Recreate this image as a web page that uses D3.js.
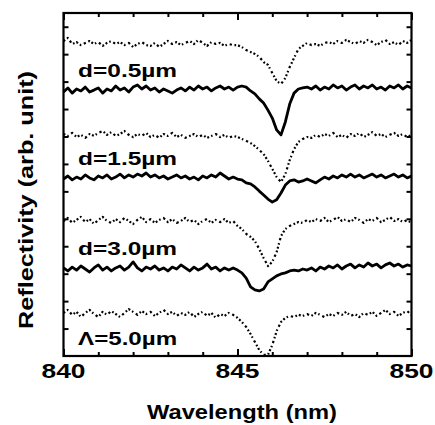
<!DOCTYPE html>
<html>
<head>
<meta charset="utf-8">
<script src="https://cdn.jsdelivr.net/npm/d3@7"></script>
<style>
  body { margin: 0; background: #fff; }
  text { font-family: "Liberation Sans", Arial, sans-serif; font-weight: bold; fill: #000; }
</style>
</head>
<body>
<div id="chart"></div>
<script>
const width = 435,
      height = 425;

const margin = {top: 13, right: 23.5, bottom: 69, left: 63.5};

// wavelength grid (nm)
const wavelength = [
  840, 840.125, 840.25, 840.375, 840.5, 840.625, 840.75, 840.875,
  841, 841.125, 841.25, 841.375, 841.5, 841.625, 841.75, 841.875,
  842, 842.125, 842.25, 842.375, 842.5, 842.625, 842.75, 842.875,
  843, 843.125, 843.25, 843.375, 843.5, 843.625, 843.75, 843.875,
  844, 844.125, 844.25, 844.375, 844.5, 844.625, 844.75, 844.875,
  845, 845.125, 845.25, 845.375, 845.5, 845.625, 845.75, 845.875,
  846, 846.125, 846.25, 846.375, 846.5, 846.625, 846.75, 846.875,
  847, 847.125, 847.25, 847.375, 847.5, 847.625, 847.75, 847.875,
  848, 848.125, 848.25, 848.375, 848.5, 848.625, 848.75, 848.875,
  849, 849.125, 849.25, 849.375, 849.5, 849.625, 849.75, 849.875,
  850
];

// reflectivity traces, offset (arb. unit)
const d05Dotted = [
  11.48, 11.59, 11.37, 11.44, 11.33, 11.41, 11.48, 11.37, 11.44, 11.30,
  11.41, 11.48, 11.37, 11.44, 11.33, 11.41, 11.26, 11.37, 11.44, 11.33,
  11.30, 11.41, 11.26, 11.37, 11.48, 11.37, 11.44, 11.33, 11.41, 11.48,
  11.37, 11.52, 11.41, 11.30, 11.44, 11.37, 11.41, 11.30, 11.37, 11.33,
  11.33, 11.26, 11.15, 11.08, 11.01, 10.90, 10.71, 10.61, 10.31, 10.02,
  9.91, 10.13, 10.53, 10.86, 11.19, 11.30, 11.41, 11.33, 11.37, 11.30,
  11.41, 11.44, 11.37, 11.48, 11.41, 11.52, 11.44, 11.37, 11.48, 11.41,
  11.52, 11.44, 11.33, 11.44, 11.52, 11.37, 11.44, 11.33, 11.48, 11.41,
  11.52
];

const d05Solid = [
  9.62, 9.77, 9.58, 9.73, 9.66, 9.80, 9.62, 9.69, 9.77, 9.58,
  9.73, 9.66, 9.84, 9.69, 9.77, 9.62, 9.80, 9.88, 9.73, 9.84,
  9.69, 9.77, 9.62, 9.73, 9.66, 9.58, 9.69, 9.77, 9.66, 9.80,
  9.69, 9.84, 9.73, 9.80, 9.66, 9.77, 9.84, 9.73, 9.80, 9.69,
  9.80, 9.84, 9.80, 9.66, 9.55, 9.37, 9.22, 8.96, 8.67, 8.24,
  8.06, 8.53, 9.18, 9.58, 9.73, 9.77, 9.80, 9.73, 9.84, 9.69,
  9.80, 9.73, 9.88, 9.77, 9.84, 9.69, 9.80, 9.88, 9.73, 9.84,
  9.77, 9.88, 9.73, 9.80, 9.69, 9.84, 9.77, 9.88, 9.73, 9.84,
  9.77
];

const d15Dotted = [
  8.09, 8.02, 8.13, 7.98, 8.06, 7.95, 8.09, 8.02, 8.13, 8.20,
  8.06, 8.16, 8.02, 8.09, 8.20, 8.06, 7.98, 8.09, 8.02, 8.13,
  7.98, 8.06, 7.95, 8.09, 8.02, 8.13, 7.98, 8.06, 7.95, 8.02,
  8.09, 7.98, 8.06, 7.95, 8.02, 8.09, 7.98, 8.06, 7.95, 8.02,
  7.98, 7.91, 7.84, 7.76, 7.65, 7.51, 7.36, 7.11, 6.82, 6.52,
  6.34, 6.63, 7.14, 7.54, 7.80, 7.91, 7.98, 7.95, 8.06, 7.98,
  8.09, 8.02, 8.13, 7.98, 8.06, 7.95, 8.09, 8.02, 8.13, 7.98,
  8.06, 8.16, 8.02, 8.09, 7.98, 8.06, 8.13, 8.02, 8.09, 7.98,
  8.06
];

const d15Solid = [
  6.45, 6.56, 6.42, 6.52, 6.45, 6.60, 6.49, 6.42, 6.56, 6.49,
  6.60, 6.45, 6.52, 6.63, 6.49, 6.60, 6.52, 6.63, 6.56, 6.67,
  6.52, 6.60, 6.49, 6.56, 6.45, 6.52, 6.60, 6.49, 6.56, 6.45,
  6.52, 6.42, 6.56, 6.49, 6.60, 6.52, 6.67, 6.56, 6.45, 6.52,
  6.45, 6.42, 6.31, 6.27, 6.16, 6.01, 5.87, 5.72, 5.61, 5.69,
  5.94, 6.23, 6.38, 6.42, 6.34, 6.38, 6.45, 6.38, 6.31, 6.42,
  6.52, 6.45, 6.56, 6.49, 6.60, 6.52, 6.63, 6.52, 6.60, 6.49,
  6.56, 6.63, 6.52, 6.60, 6.49, 6.56, 6.63, 6.52, 6.60, 6.49,
  6.56
];

const d30Dotted = [
  4.92, 5.03, 4.85, 4.96, 5.07, 4.88, 4.99, 4.81, 4.96, 5.07,
  4.92, 4.85, 4.99, 4.88, 5.03, 4.92, 4.81, 4.96, 5.07, 4.88,
  4.99, 4.85, 4.96, 5.03, 4.88, 4.99, 4.85, 4.92, 5.03, 4.88,
  4.96, 4.81, 4.92, 4.99, 4.85, 4.96, 4.88, 4.99, 4.85, 4.92,
  4.74, 4.63, 4.45, 4.34, 4.19, 3.90, 3.57, 3.28, 3.43, 3.79,
  4.37, 4.63, 4.74, 4.81, 4.88, 4.85, 4.96, 4.88, 4.99, 4.92,
  5.03, 4.88, 4.96, 5.07, 4.92, 4.99, 4.88, 5.03, 4.96, 4.85,
  4.99, 4.92, 5.03, 4.88, 4.96, 5.07, 4.92, 4.99, 4.88, 4.96,
  4.85
];

const d30Solid = [
  3.21, 3.10, 3.24, 3.13, 3.28, 3.17, 3.06, 3.21, 3.32, 3.13,
  3.24, 3.10, 3.21, 3.28, 3.13, 3.24, 3.43, 3.21, 3.10, 3.24,
  3.17, 3.28, 3.13, 3.21, 3.10, 3.24, 3.17, 3.32, 3.21, 3.10,
  3.24, 3.13, 3.21, 3.35, 3.17, 3.24, 3.10, 3.21, 3.13, 3.21,
  3.13, 3.03, 2.84, 2.52, 2.41, 2.37, 2.44, 2.70, 2.81, 2.92,
  2.99, 3.03, 3.10, 3.13, 3.10, 3.17, 3.13, 3.21, 3.10, 3.24,
  3.17, 3.28, 3.21, 3.32, 3.17, 3.28, 3.35, 3.21, 3.32, 3.24,
  3.39, 3.28, 3.35, 3.21, 3.32, 3.39, 3.28, 3.35, 3.24, 3.32,
  3.28
];

const l50Dotted = [
  1.57, 1.68, 1.50, 1.61, 1.42, 1.57, 1.68, 1.53, 1.42, 1.61,
  1.50, 1.64, 1.53, 1.42, 1.57, 1.71, 1.61, 1.50, 1.64, 1.53,
  1.61, 1.46, 1.57, 1.68, 1.53, 1.61, 1.46, 1.57, 1.50, 1.61,
  1.42, 1.53, 1.61, 1.46, 1.57, 1.39, 1.53, 1.46, 1.57, 1.50,
  1.39, 1.24, 1.06, 0.80, 0.51, 0.22, 0.04, 0.04, 0.40, 0.91,
  1.24, 1.39, 1.46, 1.42, 1.50, 1.46, 1.53, 1.46, 1.57, 1.50,
  1.42, 1.53, 1.46, 1.57, 1.50, 1.61, 1.46, 1.53, 1.42, 1.57,
  1.50, 1.61, 1.46, 1.57, 1.68, 1.53, 1.61, 1.46, 1.57, 1.64,
  1.50
];

const sampleLabels = ["d=0.5µm", "d=1.5µm", "d=3.0µm", "Λ=5.0µm"];

const xTicks = [840, 841, 842, 843, 844, 845, 846, 847, 848, 849, 850];
const xLabelTicks = [840, 845, 850];
const yTicks = [1, 2, 3, 4, 5, 6, 7, 8, 9, 10, 11, 12];

const traces = [
  {values: d05Dotted, dotted: true},
  {values: d05Solid, dotted: false},
  {values: d15Dotted, dotted: true},
  {values: d15Solid, dotted: false},
  {values: d30Dotted, dotted: true},
  {values: d30Solid, dotted: false},
  {values: l50Dotted, dotted: true}
];

const x = d3.scaleLinear()
    .domain([840, 850])
    .range([margin.left, width - margin.right]);

const y = d3.scaleLinear()
    .domain([0, 12.5])
    .range([height - margin.bottom, margin.top]);

const svg = d3.select("#chart")
  .append("svg")
    .attr("width", width)
    .attr("height", height);

const line = d3.line()
    .x((d, i) => x(wavelength[i]))
    .y(d => y(d));

svg.append("g")
  .selectAll("path")
  .data(traces)
  .enter()
  .append("path")
    .attr("fill", "none")
    .attr("stroke", "#000")
    .attr("stroke-width", d => d.dotted ? 2.2 : 2.8)
    .attr("stroke-dasharray", d => d.dotted ? "2 2.2 1.5 3 2.3 2.6 1.7 2" : null)
    .attr("stroke-linejoin", "round")
    .attr("d", d => line(d.values));

// ticks, all pointing inward
function tickStyle(g) {
  g.select(".domain").remove();
  g.selectAll(".tick line").attr("stroke", "#000").attr("stroke-width", 2);
}

svg.append("g")
    .attr("transform", `translate(0,${height - margin.bottom})`)
    .call(d3.axisBottom(x).tickValues(xTicks).tickSize(-4).tickFormat(""))
    .call(tickStyle)
    .selectAll(".tick line")
    .attr("y2", d => xLabelTicks.includes(d) ? -7 : -4);

svg.append("g")
    .attr("transform", `translate(0,${margin.top})`)
    .call(d3.axisTop(x).tickValues(xTicks).tickSize(-4).tickFormat(""))
    .call(tickStyle)
    .selectAll(".tick line")
    .attr("y2", d => xLabelTicks.includes(d) ? 7 : 4);

svg.append("g")
    .attr("transform", `translate(${margin.left},0)`)
    .call(d3.axisLeft(y).tickValues(yTicks).tickSize(-5).tickFormat(""))
    .call(tickStyle);

svg.append("g")
    .attr("transform", `translate(${width - margin.right},0)`)
    .call(d3.axisRight(y).tickValues(yTicks).tickSize(-5).tickFormat(""))
    .call(tickStyle);

// tick labels
svg.append("g")
  .selectAll("text")
  .data(xLabelTicks)
  .enter()
  .append("text")
    .attr("x", d => x(d))
    .attr("y", height - margin.bottom + 22)
    .attr("text-anchor", "middle")
    .attr("font-size", 20)
    .attr("textLength", 44)
    .attr("lengthAdjust", "spacingAndGlyphs")
    .text(d => d);

// frame
svg.append("rect")
    .attr("x", margin.left)
    .attr("y", margin.top)
    .attr("width", width - margin.left - margin.right)
    .attr("height", height - margin.top - margin.bottom)
    .attr("fill", "none")
    .attr("stroke", "#000")
    .attr("stroke-width", 2.2);

// sample labels
const labelY = [10.17, 6.96, 3.68, 0.40];
svg.append("g")
  .selectAll("text")
  .data(sampleLabels)
  .enter()
  .append("text")
    .attr("x", x(840.42))
    .attr("y", (d, i) => y(labelY[i]))
    .attr("font-size", 19)
    .attr("textLength", 99)
    .attr("lengthAdjust", "spacingAndGlyphs")
    .text(d => d);

// axis titles
svg.append("text")
    .attr("x", 242)
    .attr("y", 419)
    .attr("text-anchor", "middle")
    .attr("font-size", 21)
    .attr("textLength", 190)
    .attr("lengthAdjust", "spacingAndGlyphs")
    .text("Wavelength (nm)");

svg.append("text")
    .attr("transform", "translate(33,200) rotate(-90)")
    .attr("text-anchor", "middle")
    .attr("font-size", 21)
    .attr("textLength", 258)
    .attr("lengthAdjust", "spacingAndGlyphs")
    .text("Reflectivity (arb. unit)");
</script>
</body>
</html>
